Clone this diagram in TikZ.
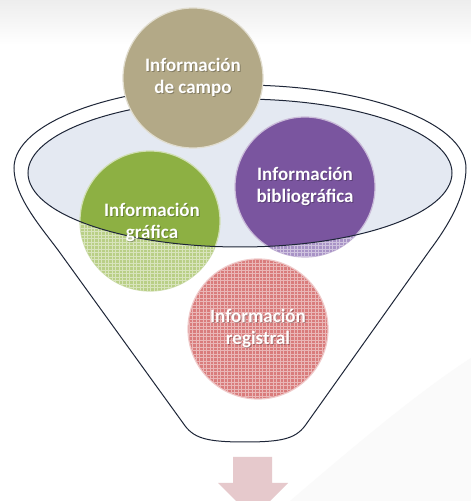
\documentclass[tikz,border=0pt]{standalone}
\usepackage{fontspec}
\setmainfont{Carlito}
\definecolor{tanc}{HTML}{B3A987}
\definecolor{greenc}{HTML}{8DB043}
\definecolor{greenlt}{HTML}{B9CF86}
\definecolor{purplec}{HTML}{7A559F}
\definecolor{purplelt}{HTML}{A893C6}
\definecolor{redc}{HTML}{D97C7C}
\definecolor{rimfill}{HTML}{E4E9F2}
\definecolor{outline}{HTML}{1E2638}
\definecolor{arrowc}{HTML}{E6C9CC}
\tikzset{
  ball/.style={circle, minimum size=140pt, inner sep=0pt},
  ballring/.style={draw=white!60!#1, line width=1.2pt, fill=#1},
  funnelline/.style={draw=outline, line width=1pt},
  lbl/.style={text=white, align=center, font=\bfseries\fontsize{19}{22}\selectfont},
  lblshadow/.style={text=black, text opacity=0.25, align=center, font=\bfseries\fontsize{19}{22}\selectfont},
  gridlines/.style={draw=white, line width=0.7pt, opacity=0.45}
}
\begin{document}
\begin{tikzpicture}[x=1pt,y=1pt]
\useasboundingbox (0,0) rectangle (471,501);
\clip (0,0) rectangle (471,501);
\fill[white] (0,0) rectangle (471,501);
\shade[top color=black!7, bottom color=white] (0,456) rectangle (471,501);
\fill[black!2] (290,0) .. controls (360,60) and (420,110) .. (471,143) -- (471,0) -- cycle;
% bowl surface
\fill[rimfill] (240,328) ellipse [x radius=212, y radius=74];
% circles inside the bowl
\fill[ballring=greenc] (150,280) circle (70);
\fill[ballring=purplec] (305,314) circle (70);
\draw[ballring=redc] (258,172) circle (70);
% glass front: lighter, gridded parts below the lip
\begin{scope}
  \clip (28,328) arc[start angle=180, end angle=360, x radius=212, y radius=74]
        -- (471,328) -- (471,0) -- (0,0) -- (0,328) -- cycle;
  \fill[greenlt] (150,280) circle (70);
  \fill[purplelt] (305,314) circle (70);
  \begin{scope}
    \clip (150,280) circle (70);
    \draw[gridlines, step=3.5] (78,200) grid (222,352);
  \end{scope}
  \begin{scope}
    \clip (305,314) circle (70);
    \draw[gridlines, step=3.5] (233,240) grid (377,386);
  \end{scope}
  \begin{scope}
    \clip (258,172) circle (69);
    \draw[gridlines, step=3.5] (186,100) grid (330,244);
  \end{scope}
\end{scope}
% funnel outline
\draw[funnelline] (183,78) -- (58,251)
  .. controls (40,275) and (14,305) .. (14,333)
  arc[start angle=180, end angle=0, x radius=226, y radius=83]
  .. controls (466,305) and (448,275) .. (430,251)
  -- (307,78)
  .. controls (297,63) and (285,59) .. (245,59)
  .. controls (205,59) and (193,63) .. (183,78);
\draw[funnelline] (240,328) ellipse [x radius=212, y radius=74];
% top circle
\draw[ballring=tanc] (193,423) circle (70);
% label shadows
\node[lblshadow] at (194,423) {Información\\de campo};
\node[lblshadow] at (153,278) {Información\\gráfica};
\node[lblshadow] at (306,314) {Información\\bibliográfica};
\node[lblshadow] at (259,172) {Información\\registral};
% labels
\node[ball, lbl] (campo) at (193,424) {Información\\de campo};
\node[ball, lbl] (graf) at (152,279) {Información\\gráfica};
\node[ball, lbl] (biblio) at (305,315) {Información\\bibliográfica};
\node[ball, lbl] (regis) at (258,173) {Información\\registral};
% output arrow
\fill[arrowc] (233,44) -- (272,44) -- (272,18) -- (288,18) -- (253,-17) -- (218,18) -- (233,18) -- cycle;
\end{tikzpicture}
\end{document}
